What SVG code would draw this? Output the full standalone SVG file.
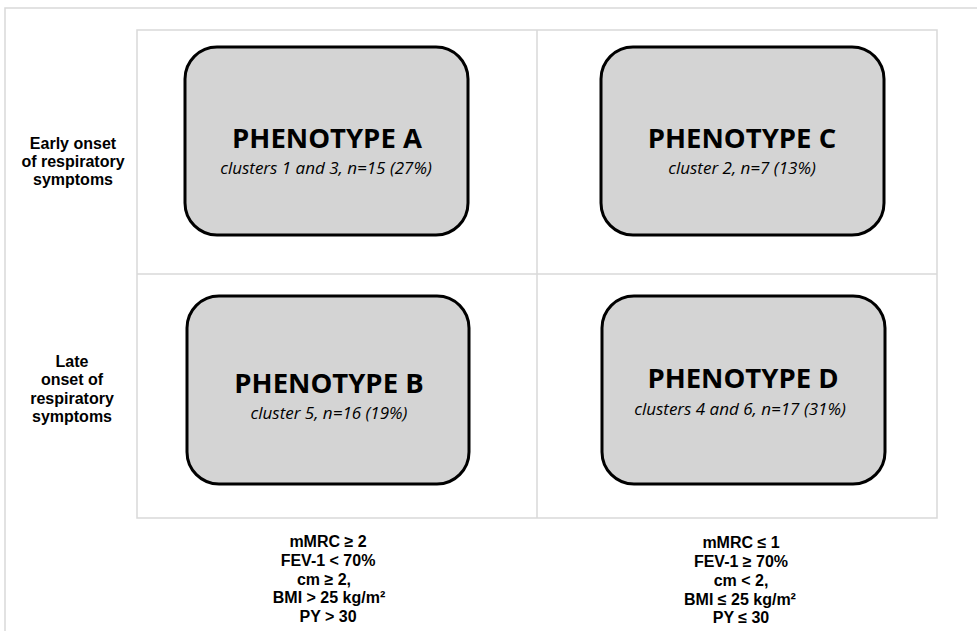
<svg xmlns="http://www.w3.org/2000/svg" width="977" height="631" viewBox="0 0 977 631">
<style>
.frame{fill:none;stroke:#d9d9d9;stroke-width:1.5}
.box{fill:#d4d4d4;stroke:#000;stroke-width:3}
.title{font-family:"Open Sans","Liberation Sans",sans-serif;font-weight:bold;font-size:27.5px;text-anchor:middle;fill:#000}
.sub{font-family:"Open Sans","Liberation Sans",sans-serif;font-style:italic;font-size:17px;text-anchor:middle;fill:#000}
.lab{font-family:"Liberation Sans",Arial,sans-serif;font-weight:bold;font-size:16px;text-anchor:middle;fill:#000}
</style>
<rect width="977" height="631" fill="#fff"/>
<path class="frame" d="M5,631 V8 H977"/>
<g id="grid">
<rect class="frame" x="137" y="30" width="800" height="488"/>
<line class="frame" x1="537" y1="30" x2="537" y2="518"/>
<line class="frame" x1="137" y1="274" x2="937" y2="274"/>
</g>
<g id="rowlabel-early">
<text class="lab" x="73" y="149">Early onset</text>
<text class="lab" x="73" y="167">of respiratory</text>
<text class="lab" x="73" y="185">symptoms</text>
</g>
<g id="rowlabel-late">
<text class="lab" x="72" y="367">Late</text>
<text class="lab" x="72" y="385">onset of</text>
<text class="lab" x="72" y="404">respiratory</text>
<text class="lab" x="72" y="422">symptoms</text>
</g>
<g id="phenotype-a">
<rect class="box" x="185" y="47" width="283" height="188" rx="32"/>
<text class="title" x="327" y="148">PHENOTYPE A</text>
<text class="sub" x="326" y="174">clusters 1 and 3, n=15 (27%)</text>
</g>
<g id="phenotype-c">
<rect class="box" x="601" y="47" width="283" height="188" rx="32"/>
<text class="title" x="742" y="148">PHENOTYPE C</text>
<text class="sub" x="742" y="174">cluster 2, n=7 (13%)</text>
</g>
<g id="phenotype-b">
<rect class="box" x="187" y="296" width="282" height="188" rx="32"/>
<text class="title" x="329" y="393">PHENOTYPE B</text>
<text class="sub" x="329" y="419">cluster 5, n=16 (19%)</text>
</g>
<g id="phenotype-d">
<rect class="box" x="602" y="296" width="283" height="188" rx="32"/>
<text class="title" x="743" y="388">PHENOTYPE D</text>
<text class="sub" x="740" y="415">clusters 4 and 6, n=17 (31%)</text>
</g>
<g id="criteria-left">
<text class="lab" x="328" y="547">mMRC ≥ 2</text>
<text class="lab" x="328" y="566">FEV-1 &lt; 70%</text>
<text class="lab" x="324" y="585">cm ≥ 2,</text>
<text class="lab" x="329" y="603">BMI &gt; 25 kg/m²</text>
<text class="lab" x="328" y="622">PY &gt; 30</text>
</g>
<g id="criteria-right">
<text class="lab" x="741" y="548">mMRC ≤ 1</text>
<text class="lab" x="741" y="567">FEV-1 ≥ 70%</text>
<text class="lab" x="741" y="586">cm &lt; 2,</text>
<text class="lab" x="740" y="605">BMI ≤ 25 kg/m²</text>
<text class="lab" x="741" y="623">PY ≤ 30</text>
</g>
</svg>
